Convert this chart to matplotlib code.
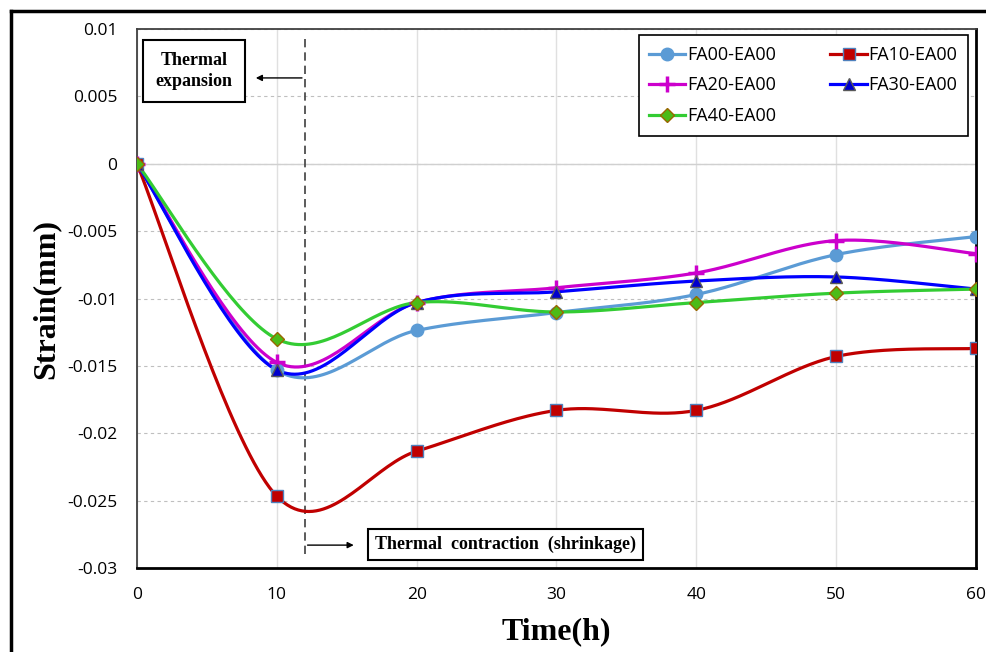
import numpy as np
import matplotlib.pyplot as plt
from matplotlib.lines import Line2D

plt.rcParams['axes.unicode_minus'] = False

# data
time_h = [0, 10, 20, 30, 40, 50, 60]
fa00 = [0, -0.01533, -0.01237, -0.01104, -0.0097, -0.00674, -0.0054]
fa10 = [0, -0.02467, -0.02133, -0.0183, -0.0183, -0.0143, -0.0137]
fa20 = [0, -0.01474, -0.0103, -0.0092, -0.0081, -0.0057, -0.00667]
fa30 = [0, -0.0153, -0.0103, -0.0095, -0.0087, -0.0084, -0.0093]
fa40 = [0, -0.0130, -0.0103, -0.0110, -0.0103, -0.0096, -0.0093]

labels = ['FA00-EA00', 'FA10-EA00', 'FA20-EA00', 'FA30-EA00', 'FA40-EA00']
series = [fa00, fa10, fa20, fa30, fa40]
colors = ['#5B9BD5', '#C00000', '#CC00CC', '#0000FF', '#33CC33']
markers = ['o', 's', '+', '^', 'D']
mface = ['#5B9BD5', '#C00000', '#CC00CC', '#0000CC', '#4CBB17']
medge = ['#5B9BD5', '#4F81BD', '#CC00CC', '#595959', '#996600']
msize = [9, 9, 11, 9, 7]


def smooth(x, y, n=40):
    # excel style smoothed line (bezier with catmull-rom tangents)
    x = np.asarray(x, float)
    y = np.asarray(y, float)
    px, py = [], []
    for i in range(len(x) - 1):
        i0 = max(i - 1, 0)
        i3 = min(i + 2, len(x) - 1)
        c1x = x[i] + (x[i + 1] - x[i0]) / 6
        c1y = y[i] + (y[i + 1] - y[i0]) / 6
        c2x = x[i + 1] - (x[i3] - x[i]) / 6
        c2y = y[i + 1] - (y[i3] - y[i]) / 6
        t = np.linspace(0, 1, n)
        bx = (1-t)**3*x[i] + 3*(1-t)**2*t*c1x + 3*(1-t)*t**2*c2x + t**3*x[i+1]
        by = (1-t)**3*y[i] + 3*(1-t)**2*t*c1y + 3*(1-t)*t**2*c2y + t**3*y[i+1]
        px.extend(bx)
        py.extend(by)
    return px, py


fig = plt.figure(figsize=(9.86, 6.52), dpi=100)
ax = fig.add_axes([0.1389, 0.1288, 0.8510, 0.8267])

handles = []
for s, lab, c, m, fc, ec, ms in zip(series, labels, colors, markers, mface, medge, msize):
    sx, sy = smooth(time_h, s)
    ax.plot(sx, sy, color=c, lw=2.3, zorder=3)
    mew = 2.5 if m == '+' else 1.0
    ax.plot(time_h, s, ls='none', marker=m, ms=ms, mfc=fc, mec=ec, mew=mew, zorder=4)
    handles.append(Line2D([], [], color=c, lw=2.3, marker=m, ms=ms, mfc=fc, mec=ec, mew=mew))

ax.set_xlim(0, 60)
ax.set_ylim(-0.03, 0.01)
ax.set_xticks(np.arange(0, 61, 10))
ax.set_yticks(np.arange(-0.03, 0.0101, 0.005))
ax.set_yticklabels(['-0.03', '-0.025', '-0.02', '-0.015', '-0.01', '-0.005', '0', '0.005', '0.01'])
ax.tick_params(axis='y', length=0, labelsize=12.5, pad=14)
ax.tick_params(axis='x', length=0, labelsize=12.5, pad=14)
for t in ax.get_xticklabels() + ax.get_yticklabels():
    t.set_fontfamily('Open Sans')

ax.grid(axis='y', color='#BFBFBF', ls=(0, (3, 3)), lw=0.8)
ax.grid(axis='x', color='#E0E0E0', ls='-', lw=1)
ax.axhline(0, color='#D0D0D0', lw=1, zorder=1)
ax.set_axisbelow(True)
for side in ['left', 'top']:
    ax.spines[side].set_color('#404040')
    ax.spines[side].set_linewidth(1.3)
for side in ['right', 'bottom']:
    ax.spines[side].set_color('black')
    ax.spines[side].set_linewidth(2)

ax.set_xlabel('Time(h)', fontfamily='Liberation Serif', fontweight='bold', fontsize=23, labelpad=10)
ax.set_ylabel('Strain(mm)', fontfamily='Liberation Serif', fontweight='bold', fontsize=23, labelpad=5)

# boundary between expansion and contraction
ax.plot([12, 12], [0.00926, -0.0291], color='#404040', lw=1.2, ls=(0, (5, 3)), zorder=2)
ax.annotate('', xy=(8.3, 0.00637), xytext=(12, 0.00637),
            arrowprops=dict(arrowstyle='-|>', color='black', lw=1, mutation_scale=9))
ax.annotate('', xy=(15.7, -0.0283), xytext=(12, -0.0283),
            arrowprops=dict(arrowstyle='-|>', color='black', lw=1, mutation_scale=9))
ax.text(4.07, 0.00689, 'Thermal\nexpansion', ha='center', va='center',
        fontfamily='Liberation Serif', fontweight='bold', fontsize=13, linespacing=1.25,
        bbox=dict(boxstyle='square,pad=0.7', fc='white', ec='black', lw=1.5), zorder=5)
ax.text(26.36, -0.02826, 'Thermal  contraction  (shrinkage)', ha='center', va='center',
        fontfamily='Liberation Serif', fontweight='bold', fontsize=13,
        bbox=dict(boxstyle='square,pad=0.4', fc='white', ec='black', lw=1.5), zorder=5)

# legend filled row by row like the original
order = [0, 2, 4, 1, 3]
leg = ax.legend([handles[i] for i in order], [labels[i] for i in order], ncol=2,
                loc='upper right', bbox_to_anchor=(0.9905, 0.9889),
                borderaxespad=0, fancybox=False, edgecolor='black', framealpha=1,
                prop={'family': 'Open Sans', 'size': 13}, handlelength=2.0, handletextpad=0.1,
                columnspacing=3.0, borderpad=0.6, labelspacing=0.7)
leg.get_frame().set_linewidth(1.2)

# outer frame of the original figure (cropped)
fig.add_artist(Line2D([11/986, 11/986], [0, 1 - 11/652], color='black', lw=2.5))
fig.add_artist(Line2D([11/986, 1], [1 - 11/652, 1 - 11/652], color='black', lw=2.5))

fig.savefig('out.png', dpi=100)
